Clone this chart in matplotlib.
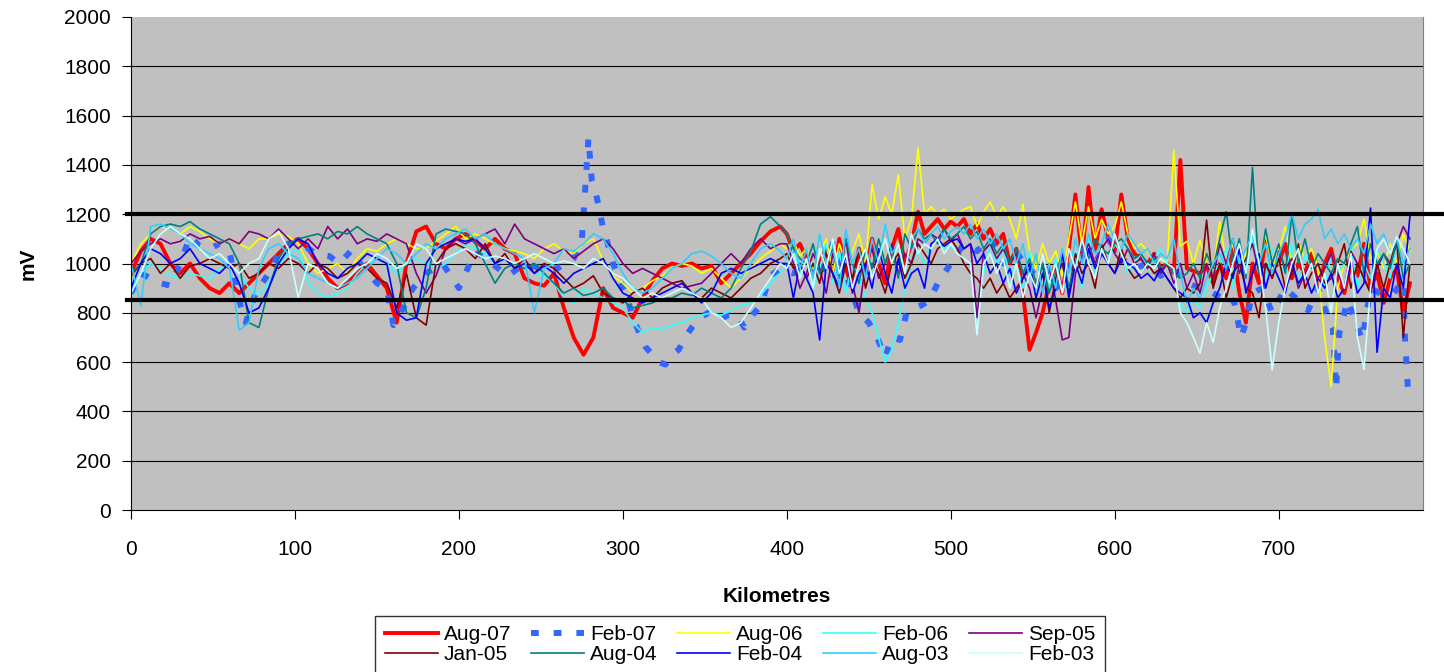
import matplotlib
matplotlib.use("Agg")
import matplotlib.pyplot as plt

plt.rcParams['font.family'] = ['Liberation Sans', 'DejaVu Sans']

# ---------------- data ----------------
KM = list(range(0, 400, 6)) + list(range(400, 781, 4))

AUG07 = [960, 1050, 1100, 1080, 1000, 960, 1000, 940, 900, 880,
         920, 880, 920, 960, 1000, 1040, 1080, 1100, 1060, 1000,
         940, 900, 920, 960, 1000, 950, 900, 760, 1000, 1130,
         1150, 1080, 1060, 1100, 1120, 1090, 1060, 1100, 1060, 1040,
         940, 920, 910, 960, 820, 700, 630, 700, 900, 820,
         800, 780, 860, 930, 980, 1000, 990, 1000, 980, 990,
         920, 960, 1000, 1040, 1090, 1130, 1150,
         1120, 1050, 1080, 1020, 960, 1000, 1060, 940,
         1100, 980, 900, 1060, 960, 1100, 1000, 920,
         1060, 1140, 1000, 1080, 1210, 1120, 1150, 1180,
         1140, 1170, 1150, 1180, 1120, 1160, 1100, 1140,
         1080, 1120, 1000, 1060, 880, 650, 720, 800,
         920, 1000, 880, 1060, 1280, 1020, 1310, 1050,
         1220, 1100, 1050, 1280, 1100, 1040, 1020, 1000,
         1040, 980, 1000, 960, 1420, 980, 970, 960,
         990, 920, 1000, 940, 1060, 880, 760, 1000,
         920, 1100, 980, 1000, 1080, 940, 1000, 960,
         1040, 900, 1000, 1060, 940, 880, 1000, 950,
         1080, 900, 960, 840, 940, 980, 800, 920]

AUG06 = [1000, 1080, 1120, 1150, 1140, 1120, 1150, 1130, 1100, 1080,
         1100, 1080, 1060, 1100, 1100, 1120, 1110, 1080, 1000, 960,
         980, 1000, 960, 1020, 1060, 1050, 1080, 1100, 1080, 1060,
         1060, 1090, 1120, 1150, 1100, 1120, 1100, 1080, 1060, 1050,
         1040, 1020, 1060, 1080, 1050, 1040, 1080, 1100, 1010, 950,
         920, 880, 900, 930, 950, 980, 1000, 990, 960, 980,
         940, 900, 940, 980, 1020, 1050, 1080,
         1060, 1090, 1030, 1060, 980, 1040, 1100, 960,
         1080, 1000, 1050, 1120, 1000, 1320, 1180, 1270,
         1200, 1360, 1100, 1180, 1470, 1200, 1230, 1200,
         1220, 1180, 1200, 1220, 1230, 1150, 1210, 1250,
         1190, 1230, 1180, 1100, 1240, 1050, 980, 1080,
         1000, 1050, 950, 1100, 1250, 1080, 1230, 1100,
         1180, 1120, 1150, 1250, 1120, 1060, 1080, 1050,
         1000, 1020, 1000, 1460, 1070, 1090, 1000, 1095,
         1000, 960, 1170, 1000, 1080, 960, 1040, 1100,
         1000, 1120, 980, 1050, 1150, 1000, 1080, 1020,
         1060, 980, 700, 500, 900, 1000, 1060, 1080,
         1180, 1020, 1050, 980, 1080, 1000, 1120, 1050]

FEB06 = [900, 960, 1000, 980, 950, 940, 960, 950, 940, 980,
         1000, 960, 900, 880, 920, 1000, 1040, 1060, 920, 880,
         860, 880, 900, 960, 1000, 1020, 1000, 960, 1000, 1020,
         1000, 980, 1000, 1040, 1080, 1060, 1040, 1000, 1020, 980,
         1000, 960, 950, 920, 860, 840, 900, 880, 860, 840,
         820, 760, 720, 740, 730, 750, 760, 780, 790, 800,
         790, 810, 830, 840, 870, 920, 960,
         1000, 1060, 950, 1020, 900, 980, 1080, 920,
         1050, 880, 1000, 950, 860, 800, 700, 600,
         650, 760, 900, 1000, 1050, 1000, 1080, 1100,
         1060, 1070, 1040, 1020, 1000, 770, 960, 1080,
         1000, 1060, 950, 1000, 900, 1050, 860, 980,
         900, 1020, 880, 960, 1050, 900, 1100, 960,
         1050, 1000, 1080, 1040, 960, 1000, 1040, 980,
         1020, 1060, 1000, 960, 830, 800, 860, 820,
         900, 960, 1000, 1060, 900, 1040, 980, 1100,
         1000, 940, 1060, 1000, 960, 1080, 900, 1040,
         980, 1000, 900, 1040, 960, 1000, 1080, 900,
         1000, 940, 1060, 1000, 940, 1080, 1000, 960]

SEP05 = [1000, 1050, 1080, 1100, 1080, 1090, 1120, 1100, 1110, 1080,
         1100, 1080, 1130, 1120, 1100, 1140, 1100, 1060, 1100, 1060,
         1150, 1100, 1140, 1080, 1100, 1090, 1120, 1100, 1080, 960,
         880, 950, 1060, 1100, 1080, 1100, 1120, 1140, 1080, 1160,
         1100, 1080, 1060, 1040, 1060, 1020, 1050, 1080, 1100, 1060,
         1000, 960, 980, 960, 940, 920, 900, 910, 920, 960,
         1000, 1040, 1000, 1060, 1100, 1060, 1080,
         1080, 1000, 900, 960, 1040, 980, 880, 1040,
         960, 1100, 920, 800, 1000, 1060, 940, 1000,
         1080, 960, 1040, 1000, 1100, 1080, 1120, 1100,
         1140, 1090, 1120, 1060, 1080, 780, 1050, 1080,
         1020, 1060, 1000, 1040, 960, 900, 780, 900,
         1000, 850, 690, 700, 960, 1020, 1080, 1000,
         1060, 1100, 1040, 1000, 1060, 1000, 1020, 980,
         1040, 960, 1000, 920, 1000, 900, 960, 880,
         1000, 940, 1080, 1000, 1100, 960, 1020, 1080,
         960, 1000, 940, 1050, 980, 1020, 900, 960,
         1000, 940, 980, 1040, 960, 900, 1050, 1000,
         940, 880, 980, 1040, 1000, 1080, 1150, 1100]

JAN05 = [950, 1000, 1020, 960, 1000, 940, 990, 1000, 1020, 1000,
         980, 1000, 940, 960, 1000, 980, 1020, 1000, 960, 1000,
         980, 940, 960, 1000, 980, 940, 920, 820, 960, 780,
         750, 1000, 1060, 1080, 1060, 1020, 1080, 1000, 1040, 980,
         1020, 960, 1000, 980, 940, 900, 920, 950, 880, 860,
         840, 880, 900, 860, 900, 920, 930, 880, 860, 900,
         880, 860, 900, 940, 960, 1000, 1020,
         1040, 980, 1000, 940, 1000, 920, 1040, 960,
         880, 1000, 940, 1060, 900, 1000, 960, 880,
         1000, 1040, 940, 1000, 1080, 1040, 1000, 1060,
         1080, 1100, 1060, 1000, 960, 940, 900, 940,
         880, 920, 860, 900, 940, 980, 900, 1000,
         800, 940, 1000, 880, 1040, 960, 1000, 900,
         1080, 1000, 960, 1060, 980, 940, 960, 1000,
         960, 980, 940, 900, 860, 900, 880, 920,
         1176, 900, 1000, 860, 960, 1000, 900, 880,
         780, 1000, 940, 1020, 900, 960, 1080, 900,
         960, 1000, 920, 940, 1000, 1080, 900, 1000,
         940, 880, 1000, 900, 1000, 1100, 700, 1000]

AUG04 = [960, 1000, 1120, 1150, 1160, 1150, 1170, 1140, 1120, 1100,
         1080, 1000, 760, 740, 900, 1020, 1080, 1100, 1110, 1120,
         1100, 1130, 1120, 1150, 1120, 1100, 1080, 1000, 800, 780,
         900, 1120, 1140, 1130, 1120, 1080, 1000, 920, 980, 1000,
         980, 1000, 960, 920, 880, 900, 870, 880, 900, 860,
         850, 820, 830, 840, 860, 860, 880, 870, 900, 880,
         860, 900, 980, 1050, 1160, 1190, 1150,
         1120, 1060, 1020, 1000, 1080, 960, 1000, 1060,
         940, 1100, 1000, 920, 1060, 980, 1100, 1000,
         1060, 940, 1120, 1060, 1140, 1100, 1120, 1080,
         1140, 1100, 1120, 1150, 1100, 1130, 1060, 1100,
         1040, 1080, 1000, 1060, 960, 1020, 920, 1000,
         880, 960, 1040, 900, 1000, 1080, 1020, 1100,
         1060, 1040, 1080, 1100, 1060, 1020, 1040, 1000,
         1020, 980, 1000, 960, 940, 960, 1000, 940,
         1040, 980, 1100, 1210, 1000, 1100, 940, 1390,
         960, 1140, 1000, 1080, 960, 1200, 1000, 1100,
         980, 1040, 1000, 960, 1020, 1000, 1080, 1150,
         960, 1080, 1000, 1040, 980, 1100, 940, 1000]

FEB04 = [900, 1000, 1060, 1040, 1000, 1020, 1060, 1000, 980, 960,
         1000, 920, 800, 820, 900, 1000, 1060, 1100, 1080, 1000,
         960, 940, 980, 1000, 1040, 1020, 1000, 800, 770, 780,
         1000, 1060, 1080, 1100, 1090, 1100, 1060, 1000, 1020, 980,
         1000, 960, 990, 960, 920, 960, 980, 1000, 1020, 940,
         880, 860, 840, 860, 880, 900, 920, 880, 840, 880,
         960, 980, 960, 980, 1000, 1020, 1000,
         1000, 860, 1000, 940, 880, 690, 1000, 960,
         900, 1040, 880, 960, 1000, 900, 1060, 960,
         880, 1020, 900, 960, 980, 900, 1080, 1100,
         1070, 1090, 1100, 1060, 1080, 1000, 1040, 960,
         1000, 920, 980, 880, 940, 1000, 860, 960,
         820, 900, 1040, 860, 1000, 920, 1060, 980,
         1040, 1000, 960, 1020, 1000, 980, 940, 960,
         930, 980, 940, 900, 880, 860, 780, 800,
         760, 840, 900, 1000, 940, 1060, 880, 960,
         1040, 900, 1000, 940, 880, 1000, 920, 960,
         880, 940, 900, 960, 860, 900, 1000, 880,
         920, 1225, 640, 900, 860, 1000, 900, 1190]

AUG03 = [1000, 830, 1150, 1160, 1140, 1120, 1080, 1060, 1040, 1020,
         980, 730, 760, 980, 1060, 1080, 1040, 1020, 960, 940,
         920, 900, 920, 940, 980, 1020, 1060, 1040, 1000, 1040,
         1080, 1060, 1100, 1120, 1140, 1100, 1120, 1080, 1060, 1040,
         1020, 800, 980, 1000, 1060, 1050, 1080, 1120, 1100, 1040,
         960, 900, 880, 900, 940, 980, 1000, 1040, 1050, 1030,
         1000, 960, 940, 1000, 1060, 1080, 1050,
         1020, 1100, 980, 1060, 940, 1120, 1000, 1080,
         900, 1140, 1000, 1060, 940, 1100, 1000, 1160,
         1040, 1080, 960, 1100, 1140, 1080, 1120, 1150,
         1100, 1130, 1150, 1120, 1160, 1100, 1140, 1080,
         1120, 1060, 1100, 1000, 1080, 940, 1040, 880,
         1000, 900, 1060, 960, 1100, 1000, 1120, 1040,
         1080, 1160, 1100, 1060, 1120, 1080, 1040, 1060,
         1000, 1040, 1020, 1100, 960, 840, 900, 860,
         940, 1000, 1040, 980, 1100, 1000, 1060, 1120,
         1000, 1080, 960, 1040, 1100, 1205, 1100, 1160,
         1180, 1220, 1100, 1140, 1080, 1120, 1060, 1100,
         1040, 1160, 1080, 1120, 1040, 1100, 1000, 1060]

FEB03 = [880, 960, 1060, 1120, 1150, 1120, 1100, 1060, 1020, 1040,
         1000, 960, 1000, 1020, 1100, 1130, 1060, 860, 1000, 980,
         920, 900, 940, 980, 1000, 1040, 1020, 980, 1000, 1080,
         1060, 1000, 1020, 1040, 1060, 1040, 1020, 1030, 1020, 1000,
         1020, 1040, 1020, 1000, 1010, 1000, 980, 1020, 1000, 960,
         940, 900, 860, 880, 860, 880, 900, 880, 860, 800,
         780, 740, 760, 820, 880, 940, 1000,
         980, 1040, 940, 1020, 900, 1060, 980, 1100,
         960, 1040, 900, 1000, 1060, 940, 1020, 1100,
         1000, 1080, 960, 1120, 1040, 1080, 1060, 1100,
         1040, 1080, 1040, 1020, 1000, 710, 1000, 1040,
         960, 1020, 900, 1000, 860, 960, 900, 1040,
         920, 1000, 880, 1060, 980, 1100, 1000, 940,
         1060, 1000, 1120, 1040, 980, 1000, 960, 1000,
         980, 1020, 1000, 980, 800, 760, 700, 636,
         760, 680, 820, 900, 1000, 1080, 960, 1140,
         1000, 820, 568, 760, 900, 1000, 1060, 940,
         1000, 880, 960, 800, 1000, 900, 1040, 700,
         570, 900, 1060, 1100, 1040, 1110, 1060, 1000]

KM_FEB07 = [0, 6, 12, 18, 24, 30, 36, 42, 48, 54,
            60, 66, 70, 76, 84, 93, 101, 113, 121, 127,
            134, 140, 150, 156, 160, 166, 172, 180, 190, 200,
            210, 220, 230, 240, 250, 260, 270, 275, 277, 279,
            281, 283, 285, 288, 290, 294, 298, 302, 306, 310,
            314, 318, 322, 326, 330, 334, 338, 342, 346, 352,
            358, 364, 370, 374, 379, 384, 390, 396, 404, 412,
            420, 428, 436, 444, 450, 455, 460, 464, 469, 473,
            478, 482, 487, 492, 500, 508, 516, 524, 532, 540,
            548, 556, 564, 572, 580, 588, 596, 604, 612, 620,
            628, 636, 644, 652, 660, 665, 669, 673, 677, 680,
            684, 690, 696, 704, 712, 718, 724, 729, 733, 735,
            737, 742, 751, 756, 764, 770, 776, 777, 779]
FEB07 = [880, 960, 940, 920, 910, 1000, 1110, 1070, 1060, 1080,
         1050, 850, 760, 880, 960, 1075, 1090, 1040, 1030, 1000,
         1050, 1000, 920, 900, 750, 820, 900, 960, 1000, 900,
         1050, 1000, 950, 1000, 980, 980, 1020, 1100, 1300, 1510,
         1340, 1300, 1240, 1140, 1100, 1000, 930, 880, 780, 720,
         660, 630, 600, 590, 630, 650, 700, 740, 775, 800,
         770, 790, 790, 740, 790, 830, 950, 980, 960, 1000,
         940, 1080, 960, 800, 760, 700, 620, 700, 690, 800,
         820, 830, 850, 920, 1000, 1080, 1050, 1100, 1000, 1050,
         960, 1000, 900, 980, 1050, 1000, 1100, 1020, 980, 1000,
         950, 980, 920, 900, 880, 860, 875, 840, 700, 760,
         880, 900, 800, 900, 850, 810, 900, 800, 740, 490,
         720, 850, 690, 900, 870, 880, 930, 700, 470]

LIMITS = [1200, 850]
Y_TICKS = [0, 200, 400, 600, 800, 1000, 1200, 1400, 1600, 1800, 2000]
X_TICKS = [0, 100, 200, 300, 400, 500, 600, 700]

# ---------------- figure ----------------
W, H = 1444, 672
fig = plt.figure(figsize=(W / 100, H / 100), dpi=100)
L, R, T, B = 131, 1423, 17, 510
ax = fig.add_axes([L / W, 1 - B / H, (R - L) / W, (B - T) / H])
ax.set_facecolor('#C0C0C0')

for y in Y_TICKS[1:-1]:
    ax.axhline(y, color='black', lw=0.8, zorder=0.5)

thin = 1.2
series = [
    ('Aug-07', KM, AUG07, dict(color='#FF0000', lw=2.8)),
    ('Feb-07', KM_FEB07, FEB07, dict(color='#3366FF', lw=4.3, dashes=(1.3, 2.5))),
    ('Aug-06', KM, AUG06, dict(color='#FFFF00', lw=thin)),
    ('Feb-06', KM, FEB06, dict(color='#33FFFF', lw=thin)),
    ('Sep-05', KM, SEP05, dict(color='#800080', lw=thin)),
    ('Jan-05', KM, JAN05, dict(color='#800000', lw=thin)),
    ('Aug-04', KM, AUG04, dict(color='#008080', lw=thin)),
    ('Feb-04', KM, FEB04, dict(color='#0000FF', lw=thin)),
    ('Aug-03', KM, AUG03, dict(color='#33CCFF', lw=thin)),
    ('Feb-03', KM, FEB03, dict(color='#CCFFFF', lw=thin)),
]
handles = {}
for i, (name, xs, ys, st) in enumerate(series):
    ln, = ax.plot(xs, ys, label=name, zorder=2 + i * 0.01, **st)
    handles[name] = ln

for v in LIMITS:
    ax.plot([-0.003, 1.03], [v, v], transform=ax.get_yaxis_transform(),
            color='black', lw=3.0, clip_on=False, zorder=5)

ax.set_xlim(0, 788)
ax.set_ylim(0, 2000)
ax.set_xticks(X_TICKS)
ax.set_yticks(Y_TICKS)
ax.tick_params(axis='both', labelsize=15, length=6.5, width=0.8, direction='out', color='black')
ax.tick_params(axis='y', pad=8)
ax.tick_params(axis='x', pad=15)

ax.spines['top'].set_visible(False)
ax.spines['right'].set_color('#808080')
ax.spines['right'].set_linewidth(0.8)
ax.spines['left'].set_linewidth(0.8)
ax.spines['bottom'].set_linewidth(0.8)

ax.set_xlabel('Kilometres', fontsize=15, fontweight='bold')
ax.xaxis.set_label_coords(0.5, -0.157)
ax.set_ylabel('mV', fontsize=15, fontweight='bold')
ax.yaxis.set_label_coords(-0.072, 0.5)

order = ['Aug-07', 'Jan-05', 'Feb-07', 'Aug-04', 'Aug-06', 'Feb-04',
         'Feb-06', 'Aug-03', 'Sep-05', 'Feb-03']
leg = fig.legend([handles[n] for n in order], order, ncol=5,
                 loc='upper center', bbox_to_anchor=(740 / W, 1 - 616 / H),
                 fontsize=15, frameon=True, fancybox=False, edgecolor='black',
                 handlelength=2.55, handletextpad=0.3, columnspacing=0.92,
                 labelspacing=0.05, borderpad=0.45, borderaxespad=0)
leg.get_frame().set_linewidth(1.0)

fig.savefig('out.png', dpi=100)
